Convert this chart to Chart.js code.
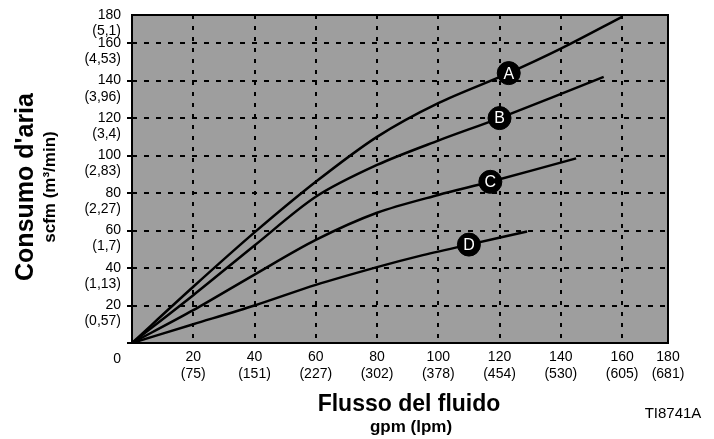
<!DOCTYPE html>
<html><head><meta charset="utf-8">
<script src="https://cdn.jsdelivr.net/npm/chart.js@4"></script>
<style>html,body{margin:0;padding:0;background:#fff}canvas{display:block}</style>
</head><body>
<canvas id="c" width="714" height="439"></canvas>
<script>
const seriesNames = ['A', 'B', 'C', 'D'];
const flowA = [0, 20, 40, 60, 80, 100, 123, 140, 160];
const airA  = [0, 30, 59, 86, 110, 128, 144, 157, 174];
const flowB = [0, 20, 40, 60, 80, 100, 120, 154];
const airB  = [0, 25.5, 52, 78, 95, 108, 120, 142];
const flowC = [0, 20, 40, 60, 80, 100, 117, 145];
const airC  = [0, 17.5, 36.5, 55, 69.5, 79, 86, 98.5];
const flowD = [0, 20, 40, 60, 80, 94, 110, 129];
const airD  = [0, 10, 20, 31, 40.5, 46.5, 52.5, 59.5];
const markerFlow = [123, 120, 117, 110];
const markerAir  = [144, 120, 86, 52.5];

const xTickValues = [0, 20, 40, 60, 80, 100, 120, 140, 160, 175];
const xTickTop    = ['', '20', '40', '60', '80', '100', '120', '140', '160', '180'];
const xTickBottom = ['', '(75)', '(151)', '(227)', '(302)', '(378)', '(454)', '(530)', '(605)', '(681)'];
const yTickValues = [0, 20, 40, 60, 80, 100, 120, 140, 160, 175];
const yTickTop    = ['', '20', '40', '60', '80', '100', '120', '140', '160', '180'];
const yTickBottom = ['0', '(0,57)', '(1,13)', '(1,7)', '(2,27)', '(2,83)', '(3,4)', '(3,96)', '(4,53)', '(5,1)'];

const yTitle = "Consumo d'aria";
const ySubtitle = 'scfm (m³/min)';
const xTitle = 'Flusso del fluido';
const xSubtitle = 'gpm (lpm)';
const figureCode = 'TI8741A';

const FONT = '"Liberation Sans", Arial, sans-serif';
const zip = (xs, ys) => xs.map((x, i) => ({x: x, y: ys[i]}));
const AXIS_MAX = 175;

const lineDs = (xs, ys) => ({
  type: 'line', data: zip(xs, ys), borderColor: '#000', borderWidth: 2.5,
  pointRadius: 0, tension: 0.3, fill: false, order: 1
});

const plugin = {
  id: 'decor',
  beforeDraw(chart) {
    const {ctx, chartArea: a} = chart;
    ctx.save();
    ctx.fillStyle = '#9e9e9e';
    ctx.fillRect(a.left, a.top, a.right - a.left, a.bottom - a.top);
    ctx.restore();
  },
  afterDatasetsDraw(chart) {
    const {ctx, chartArea: a} = chart;
    ctx.save();
    ctx.strokeStyle = '#000';
    ctx.lineWidth = 2;
    ctx.strokeRect(a.left, a.top, a.right - a.left, a.bottom - a.top);
    const meta = chart.getDatasetMeta(4);
    ctx.fillStyle = '#fff';
    ctx.font = '16px ' + FONT;
    ctx.textAlign = 'center';
    ctx.textBaseline = 'middle';
    meta.data.forEach((pt, i) => ctx.fillText(seriesNames[i], pt.x, pt.y + 1));
    ctx.restore();
  },
  afterDraw(chart) {
    const {ctx, chartArea: a} = chart;
    const cy = (a.top + a.bottom) / 2 + 8;
    ctx.save();
    ctx.fillStyle = '#000';
    ctx.textAlign = 'center';
    ctx.textBaseline = 'alphabetic';
    ctx.save();
    ctx.translate(33, cy);
    ctx.rotate(-Math.PI / 2);
    ctx.font = 'bold 25px ' + FONT;
    ctx.fillText(yTitle, 0, 0);
    ctx.restore();
    ctx.save();
    ctx.translate(55, cy);
    ctx.rotate(-Math.PI / 2);
    ctx.font = 'bold 17px ' + FONT;
    ctx.fillText(ySubtitle, 0, 0);
    ctx.restore();
    const cx = (a.left + a.right) / 2 + 9;
    ctx.font = 'bold 23px ' + FONT;
    ctx.fillText(xTitle, cx, 411);
    ctx.font = 'bold 17px ' + FONT;
    ctx.fillText(xSubtitle, cx + 2, 432);
    ctx.font = '15px ' + FONT;
    ctx.fillText(figureCode, 673, 418);
    ctx.restore();
  }
};

new Chart(document.getElementById('c'), {
  type: 'line',
  data: {
    datasets: [
      lineDs(flowA, airA), lineDs(flowB, airB), lineDs(flowC, airC), lineDs(flowD, airD),
      { type: 'scatter', data: zip(markerFlow, markerAir), pointRadius: 11.5, pointHoverRadius: 11.5,
        backgroundColor: '#000', borderColor: '#000', borderWidth: 1, order: 0 }
    ]
  },
  options: {
    responsive: false, animation: false, devicePixelRatio: 1,
    layout: { padding: { top: 15, right: 46, left: 0, bottom: 0 } },
    plugins: { legend: { display: false }, tooltip: { enabled: false } },
    scales: {
      x: {
        type: 'linear', min: 0, max: AXIS_MAX, position: 'bottom',
        afterBuildTicks: s => { s.ticks = xTickValues.map(v => ({value: v})); },
        afterFit: s => { s.height = 96; s.paddingLeft = 0; s.paddingRight = 0; },
        border: { display: false, dash: [4, 7] },
        grid: {
          drawTicks: false, lineWidth: 2,
          color: c => (c.tick && (c.tick.value === 0 || c.tick.value === AXIS_MAX)) ? 'rgba(0,0,0,0)' : '#000'
        },
        ticks: {
          autoSkip: false, maxRotation: 0, minRotation: 0, padding: 6, color: '#000',
          font: { family: FONT, size: 14, lineHeight: 1.2 },
          callback: (v, i) => [xTickTop[i], xTickBottom[i]]
        }
      },
      y: {
        type: 'linear', min: 0, max: AXIS_MAX,
        afterBuildTicks: s => { s.ticks = yTickValues.map(v => ({value: v})); },
        afterFit: s => { s.width = 132; s.paddingTop = 0; s.paddingBottom = 0; },
        border: { display: false, dash: [5, 7] },
        grid: {
          drawTicks: true, tickLength: 5, tickWidth: 2, tickBorderDash: [], lineWidth: 2,
          tickColor: c => (c.tick && c.tick.value === AXIS_MAX) ? 'rgba(0,0,0,0)' : '#000',
          color: c => (c.tick && (c.tick.value === 0 || c.tick.value === AXIS_MAX)) ? 'rgba(0,0,0,0)' : '#000'
        },
        ticks: {
          autoSkip: false, padding: 6, labelOffset: 8, color: '#000',
          font: { family: FONT, size: 14, lineHeight: 1.15 },
          callback: (v, i) => [yTickTop[i], yTickBottom[i]]
        }
      }
    }
  },
  plugins: [plugin]
});
</script>
</body></html>
